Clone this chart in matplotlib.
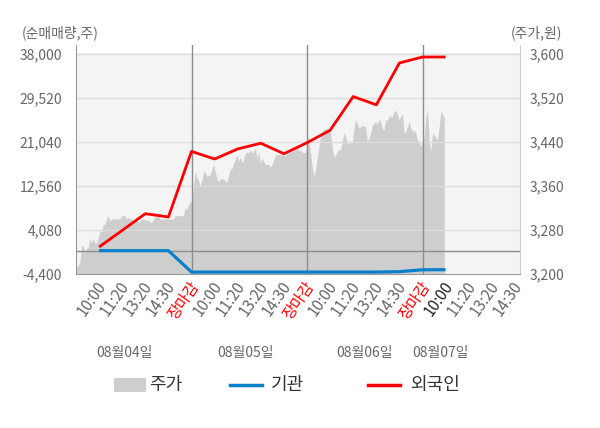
import matplotlib
matplotlib.use("Agg")
import matplotlib.pyplot as plt
import matplotlib.transforms as mtransforms
import numpy as np
from matplotlib.patches import Rectangle
from matplotlib.lines import Line2D

plt.rcParams['font.family'] = ['Noto Sans CJK KR', 'DejaVu Sans']

# ---------------- data ----------------
time_labels = ["10:00", "11:20", "13:20", "14:30", "장마감"] * 3 + ["10:00", "11:20", "13:20", "14:30"]
date_labels = ["08월04일", "08월05일", "08월06일", "08월07일"]

# net buying (shares), at slots 1..16
foreign = [800, 4000, 7220, 6590, 19230, 17760, 19700, 20800, 18780, 20900,
           23300, 29800, 28200, 36270, 37420, 37420]
institution = [100, 100, 100, 100, -4030, -4030, -4030, -4030, -4030, -4030,
               -4030, -4030, -4030, -3950, -3580, -3580]

# share price (won), dense intraday samples
price = [
    3215, 3215, 3220, 3251, 3251, 3238, 3247, 3247, 3265, 3256, 3265, 3256, 3256, 3265,
    3277, 3277, 3290, 3290, 3300, 3306, 3296, 3300, 3300, 3300, 3300, 3300, 3300, 3306,
    3306, 3306, 3300, 3303, 3300, 3300, 3296, 3296, 3296, 3296, 3296, 3300, 3300, 3298,
    3298, 3298, 3294, 3294, 3299, 3304, 3304, 3304, 3300, 3300, 3300, 3300, 3300, 3300,
    3300, 3300, 3300,
    3306, 3306, 3306, 3306, 3306, 3306, 3320, 3318, 3325, 3332, 3330, 3359, 3386, 3377,
    3371, 3358, 3371, 3386, 3386, 3377, 3380, 3380, 3390, 3399, 3386, 3375, 3367, 3373,
    3373, 3373, 3369, 3367, 3380, 3391, 3391, 3402, 3408, 3417, 3405, 3413, 3402, 3408,
    3420, 3421, 3421, 3426, 3420, 3423, 3429, 3408, 3423, 3402, 3411, 3405, 3399, 3399,
    3399,
    3394, 3399, 3408, 3417, 3417, 3417, 3417, 3417, 3417, 3414, 3420, 3420, 3423, 3423,
    3426, 3426, 3431, 3423, 3427, 3421, 3421, 3421, 3440, 3449, 3420, 3396, 3377, 3390,
    3410, 3430, 3450, 3457, 3464, 3464, 3464, 3464, 3456, 3429, 3414, 3415, 3423, 3426,
    3426, 3441, 3457, 3450, 3438, 3438, 3438, 3441, 3465, 3481, 3474, 3465, 3468, 3471,
    3468, 3468,
    3441, 3447, 3456, 3471, 3474, 3477, 3471, 3481, 3477, 3464, 3462, 3481, 3479, 3487,
    3487, 3487, 3496, 3497, 3491, 3481, 3487, 3491, 3456, 3459, 3468, 3477, 3465, 3459,
    3462, 3456, 3444, 3438, 3433, 3440, 3450, 3484, 3500, 3444, 3423, 3456, 3453, 3447,
    3444, 3468, 3496, 3490, 3485,
]

left_ticks = [-4400, 4080, 12560, 21040, 29520, 38000]
right_ticks = [3200, 3280, 3360, 3440, 3520, 3600]

# ---------------- layout ----------------
W, H = 600, 428
fig = plt.figure(figsize=(W / 100, H / 100), dpi=100)

def fx(px):
    return px / W

def fy(py):
    return 1 - py / H

ax_left, ax_right, ax_top, ax_bot = 76, 520, 45, 274
ax = fig.add_axes([fx(ax_left), fy(ax_bot), fx(ax_right - ax_left), (ax_bot - ax_top) / H])
ax2 = ax.twinx()
ax.set_zorder(2)
ax2.set_zorder(1)
ax.patch.set_visible(False)

xmax = (ax_right - ax_left) / 23.1
ax.set_xlim(0, xmax)
ax.set_ylim(-4400, 39735)
ax2.set_ylim(3200, 3616.4)

# background panel
ax2.axhspan(3200, 3601, color='#f4f4f4', lw=0, zorder=0)

# price area
px_x = np.linspace(0.02, 15.94, len(price))
ax2.fill_between(px_x, price, 3200, color='#cecece', lw=0, zorder=1)

# gridlines
for t in left_ticks[1:]:
    ax.axhline(t, color='#dcdcdc', lw=1, zorder=1)
ax.axhline(0, color='#8c8c8c', lw=1, zorder=2)
for d in [5, 10, 15]:
    ax.axvline(d, color='#8c8c8c', lw=1, zorder=2)

# lines
slots = np.arange(1, len(foreign) + 1)
ax.plot(slots, institution, color='#0a80cc', lw=2.3, zorder=4, solid_capstyle='butt')
ax.plot(slots, foreign, color='#ff0000', lw=2.0, zorder=5, solid_capstyle='butt')

# axes styling
for s in ['top', 'right']:
    ax.spines[s].set_visible(False)
for s in ['top', 'left', 'bottom']:
    ax2.spines[s].set_visible(False)
ax.spines['left'].set_color('#999999')
ax.spines['bottom'].set_color('#999999')
ax2.spines['right'].set_color('#d0d0d0')

ax.set_yticks(left_ticks)
ax.set_yticklabels([f"{v:,}" for v in left_ticks])
ax2.set_yticks(right_ticks)
ax2.set_yticklabels([f"{v:,}" for v in right_ticks])
ax.tick_params(axis='y', length=0, pad=10, labelsize=10, labelcolor='#666666')
ax2.tick_params(axis='y', length=0, pad=7, labelsize=10, labelcolor='#666666')

ax.set_xticks(np.arange(1, len(time_labels) + 1))
ax.set_xticklabels(time_labels, rotation=55, ha='right', va='top', rotation_mode='anchor')
ax.set_xticks([5, 10, 15], minor=True)
ax.tick_params(axis='x', which='major', length=0, pad=3, labelsize=11, labelcolor='#666666')
ax.tick_params(axis='x', which='minor', length=4, color='#8c8c8c')
shift = mtransforms.ScaledTranslation(-3 / 100, 0, fig.dpi_scale_trans)
for i, lab in enumerate(ax.get_xticklabels()):
    lab.set_transform(lab.get_transform() + shift)
    if time_labels[i] == "장마감":
        lab.set_color('#ff0000')
    elif i == 15:
        lab.set_color('#222222')

# axis titles
fig.text(fx(22), fy(33), "(순매매량,주)", ha='left', va='center', fontsize=10, color='#666666')
fig.text(fx(562), fy(33), "(주가,원)", ha='right', va='center', fontsize=10, color='#666666')

# date labels
date_x = [124.7, 245, 365, 440.5]
for dx, lab in zip(date_x, date_labels):
    fig.text(fx(dx), fy(353), lab, ha='center', va='center', fontsize=10, color='#666666')

# legend (manual)
ly = 385
fig.add_artist(Rectangle((fx(114), fy(392)), fx(32), 14 / H, transform=fig.transFigure,
                         facecolor='#cecece', edgecolor='none'))
fig.text(fx(149), fy(ly), "주가", ha='left', va='center', fontsize=13, color='#333333')
fig.add_artist(Line2D([fx(230), fx(262)], [fy(ly), fy(ly)], transform=fig.transFigure,
                      color='#0a80cc', lw=2.5))
fig.text(fx(271), fy(ly), "기관", ha='left', va='center', fontsize=13, color='#333333')
fig.add_artist(Line2D([fx(368), fx(400)], [fy(ly), fy(ly)], transform=fig.transFigure,
                      color='#ff0000', lw=2.5))
fig.text(fx(410), fy(ly), "외국인", ha='left', va='center', fontsize=13, color='#333333')

fig.savefig("out.png", dpi=100, facecolor='white')
